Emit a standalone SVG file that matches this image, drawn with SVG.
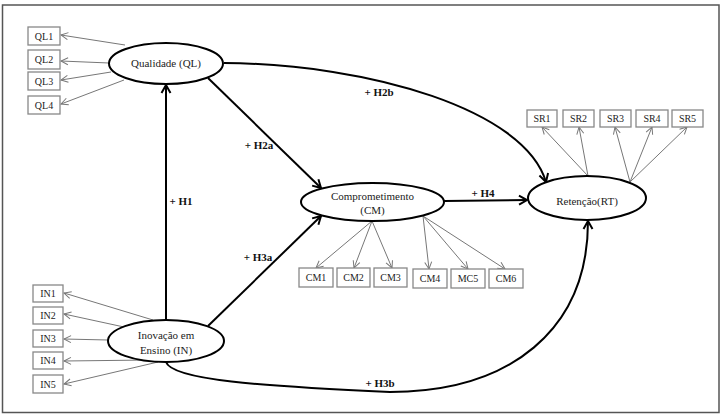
<svg xmlns="http://www.w3.org/2000/svg" width="724" height="417" viewBox="0 0 724 417">
<defs>
<marker id="ah" markerUnits="userSpaceOnUse" markerWidth="20" markerHeight="20" refX="0" refY="0" viewBox="-10 -10 20 20" orient="auto" overflow="visible">
<path d="M-8,-4.5 L0,0 L-8,4.5" fill="none" stroke="#000" stroke-width="2"/>
</marker>
<marker id="ahs" markerUnits="userSpaceOnUse" markerWidth="20" markerHeight="20" refX="0" refY="0" viewBox="-10 -10 20 20" orient="auto" overflow="visible">
<path d="M-7,-3.5 L0,0 L-7,3.5" fill="none" stroke="#777" stroke-width="1"/>
</marker>
</defs>
<style>
.lat{fill:#fff;stroke:#000;stroke-width:2}
.box{fill:#fff;stroke:#888;stroke-width:1.3}
.t{font-family:"Liberation Serif","Times New Roman",serif;font-size:11px;fill:#222;text-anchor:middle}
.bt{font-family:"Liberation Serif","Times New Roman",serif;font-size:10px;fill:#222;text-anchor:middle}
.h{font-family:"Liberation Serif","Times New Roman",serif;font-size:11px;font-weight:bold;fill:#111;text-anchor:middle}
.s{fill:none;stroke:#000;stroke-width:2;marker-end:url(#ah)}
.m{fill:none;stroke:#777;stroke-width:1;marker-end:url(#ahs)}
</style>
<rect x="0" y="0" width="724" height="417" fill="#fff"/>
<rect x="2.5" y="5" width="716.5" height="407.5" fill="none" stroke="#555" stroke-width="1.5"/>

<g id="connectors">
<path class="s" d="M166,320 L166,85"/>
<path class="s" d="M208,78 L321,188"/>
<path class="s" d="M224,63 C370,64 525,110 546,182"/>
<path class="s" d="M444,201 L527,200"/>
<path class="s" d="M208,326 L321,216"/>
<path class="s" d="M166,362 C172,380 260,386 390,392 C510,392 588,330 588,221"/>
<path class="m" d="M125,45 L61,35"/>
<path class="m" d="M109,63 L61,61"/>
<path class="m" d="M111,72 L61,80"/>
<path class="m" d="M124,80 L61,104"/>
<path class="m" d="M153,320 L64,293"/>
<path class="m" d="M124,327 L64,314"/>
<path class="m" d="M108,340 L64,339"/>
<path class="m" d="M150,360 L64,361"/>
<path class="m" d="M158,362 L64,384"/>
<path class="m" d="M372,221 L316,268"/>
<path class="m" d="M372,221 L354,268"/>
<path class="m" d="M372,221 L392,268"/>
<path class="m" d="M423,216 L429,269"/>
<path class="m" d="M423,216 L468,269"/>
<path class="m" d="M423,216 L505,269"/>
<path class="m" d="M588,176 L542,127"/>
<path class="m" d="M588,176 L579,127"/>
<path class="m" d="M630,182 L615,127"/>
<path class="m" d="M630,182 L652,127"/>
<path class="m" d="M630,182 L687,127"/>
<text class="h" x="181" y="205">+ H1</text>
<text class="h" x="259" y="149">+ H2a</text>
<text class="h" x="379" y="96">+ H2b</text>
<text class="h" x="258" y="261">+ H3a</text>
<text class="h" x="483" y="197">+ H4</text>
<text class="h" x="380" y="387">+ H3b</text>
</g>

<g id="QL"><ellipse class="lat" cx="166" cy="63.5" rx="57" ry="20.5"/><text class="t" x="166" y="67">Qualidade (QL)</text></g>
<g id="IN"><ellipse class="lat" cx="166" cy="341" rx="58" ry="21"/><text class="t" x="166" y="339">Inovação em</text><text class="t" x="166" y="354">Ensino (IN)</text></g>
<g id="CM"><ellipse class="lat" cx="372.5" cy="202" rx="71.5" ry="19"/><text class="t" x="372.5" y="200">Comprometimento</text><text class="t" x="372.5" y="214">(CM)</text></g>
<g id="RT"><ellipse class="lat" cx="587" cy="198" rx="59" ry="22"/><text class="t" x="587" y="205">Retenção(RT)</text></g>

<g id="QL1"><rect class="box" x="28" y="27" width="32" height="18"/><text class="bt" x="44" y="40">QL1</text></g>
<g id="QL2"><rect class="box" x="28" y="50" width="32" height="19"/><text class="bt" x="44" y="63">QL2</text></g>
<g id="QL3"><rect class="box" x="28" y="72" width="32" height="18"/><text class="bt" x="44" y="85">QL3</text></g>
<g id="QL4"><rect class="box" x="28" y="96" width="32" height="18"/><text class="bt" x="44" y="109">QL4</text></g>

<g id="IN1"><rect class="box" x="33" y="285" width="30" height="17"/><text class="bt" x="48" y="297">IN1</text></g>
<g id="IN2"><rect class="box" x="33" y="307" width="30" height="17"/><text class="bt" x="48" y="319">IN2</text></g>
<g id="IN3"><rect class="box" x="33" y="330" width="30" height="17"/><text class="bt" x="48" y="342">IN3</text></g>
<g id="IN4"><rect class="box" x="33" y="352" width="30" height="17"/><text class="bt" x="48" y="364">IN4</text></g>
<g id="IN5"><rect class="box" x="33" y="375" width="30" height="18"/><text class="bt" x="48" y="388">IN5</text></g>

<g id="CM1"><rect class="box" x="299" y="268" width="34" height="19"/><text class="bt" x="316" y="281">CM1</text></g>
<g id="CM2"><rect class="box" x="337" y="268" width="33" height="19"/><text class="bt" x="353.5" y="281">CM2</text></g>
<g id="CM3"><rect class="box" x="374" y="268" width="33" height="19"/><text class="bt" x="390.5" y="281">CM3</text></g>
<g id="CM4"><rect class="box" x="413" y="269" width="34" height="19"/><text class="bt" x="430" y="282">CM4</text></g>
<g id="MC5"><rect class="box" x="451" y="269" width="34" height="19"/><text class="bt" x="468" y="282">MC5</text></g>
<g id="CM6"><rect class="box" x="489" y="269" width="34" height="19"/><text class="bt" x="506" y="282">CM6</text></g>

<g id="SR1"><rect class="box" x="527" y="110" width="30" height="17"/><text class="bt" x="542" y="122">SR1</text></g>
<g id="SR2"><rect class="box" x="563" y="110" width="31" height="17"/><text class="bt" x="578.5" y="122">SR2</text></g>
<g id="SR3"><rect class="box" x="600" y="110" width="31" height="17"/><text class="bt" x="615.5" y="122">SR3</text></g>
<g id="SR4"><rect class="box" x="636" y="110" width="32" height="17"/><text class="bt" x="652" y="122">SR4</text></g>
<g id="SR5"><rect class="box" x="672" y="110" width="31" height="17"/><text class="bt" x="687.5" y="122">SR5</text></g>
</svg>
